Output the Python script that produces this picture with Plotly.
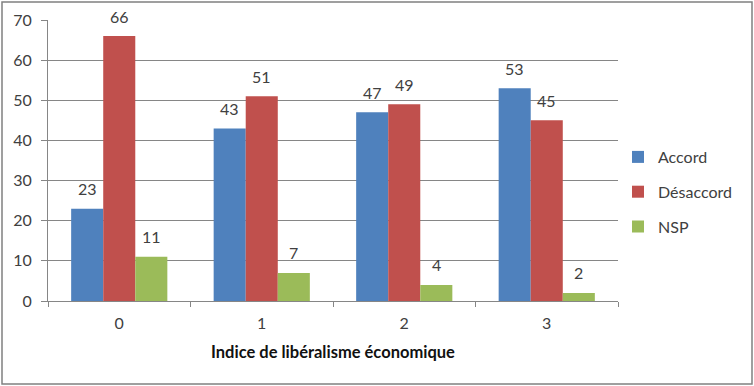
import plotly.graph_objects as go

categories = ["0", "1", "2", "3"]
accord = [23, 43, 47, 53]
desaccord = [66, 51, 49, 45]
nsp = [11, 7, 4, 2]
series_names = ["Accord", "Désaccord", "NSP"]
colors = ["#4F81BD", "#C0504D", "#9BBB59"]
series_values = [accord, desaccord, nsp]

FONT = "Lato, 'Open Sans', sans-serif"

fig = go.Figure()
annotations = []
offsets = [-32, 0, 32]
for i, (name, vals, col) in enumerate(zip(series_names, series_values, colors)):
    fig.add_trace(go.Bar(
        x=categories, y=vals, name=name, marker_color=col,
        marker_line_width=0, legendgroup=f"g{i}",
    ))
    for c, v in zip(categories, vals):
        annotations.append(dict(x=c, y=v, xref="x", yref="y", text=str(v),
                                showarrow=False, xshift=offsets[i], yshift=20,
                                yanchor="middle",
                                font=dict(size=16, color="#404040", family=FONT)))

L, R, T, B = 48, 136, 20, 85
pw, ph = 754 - L - R, 386 - T - B

fig.update_layout(
    width=754, height=386,
    margin=dict(l=L, r=R, t=T, b=B, autoexpand=False),
    paper_bgcolor="white", plot_bgcolor="white",
    font=dict(family=FONT, size=15, color="#404040"),
    barmode="group", bargap=0.325, bargroupgap=0,
    annotations=annotations,
    legend=dict(x=(618 - L) / pw, y=(301 - 192) / ph, xanchor="left", yanchor="middle",
                font=dict(size=16, color="#404040"), traceorder="grouped",
                tracegroupgap=11, itemwidth=30, bgcolor="rgba(0,0,0,0)"),
    xaxis=dict(type="category", tickson="boundaries", ticks="outside", ticklen=5,
               tickcolor="#868686", showline=True, linecolor="#868686", linewidth=1,
               showgrid=False, tickfont=dict(size=16, color="#404040"),
               ticklabelstandoff=8,
               title=dict(text="<b>Indice de libéralisme économique</b>", standoff=15,
                          font=dict(size=16.5, color="#111111", family=FONT))),
    yaxis=dict(range=[0, 70], dtick=10, ticks="outside", ticklen=6, tickcolor="#868686",
               showline=True, linecolor="#868686", linewidth=1,
               showgrid=True, gridcolor="#868686", gridwidth=1, zeroline=False,
               ticklabelstandoff=6,
               tickfont=dict(size=16, color="#404040")),
    shapes=[dict(type="rect", xref="paper", yref="paper",
                 x0=(2 - L) / pw, x1=(752 - L) / pw,
                 y0=(301 - 384) / ph, y1=(301 - 2) / ph,
                 line=dict(color="#808080", width=1.5), fillcolor="rgba(0,0,0,0)")],
)

fig.write_html("out.html", config={"displayModeBar": False},
               post_script="document.body.style.margin='0';document.body.style.overflow='hidden';")
